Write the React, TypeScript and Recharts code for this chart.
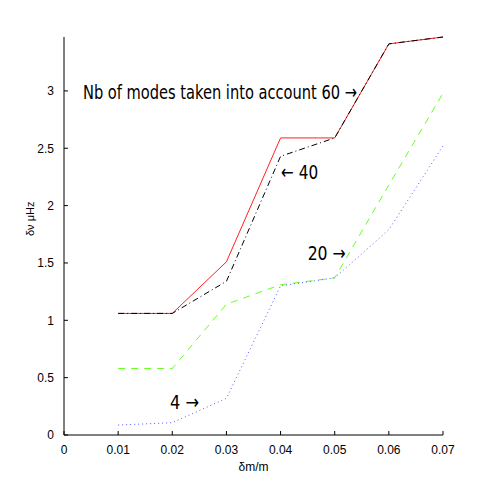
import { LineChart, Line, XAxis, YAxis, ReferenceDot } from "recharts";

const dm = [0.01, 0.02, 0.03, 0.04, 0.05, 0.06, 0.07];
const modes60 = [1.06, 1.06, 1.51, 2.59, 2.59, 3.41, 3.47];
const modes40 = [1.06, 1.06, 1.34, 2.43, 2.59, 3.41, 3.47];
const modes20 = [0.58, 0.58, 1.14, 1.31, 1.37, 2.18, 2.98];
const modes4 = [0.087, 0.107, 0.32, 1.3, 1.37, 1.79, 2.52];

const xTicks = [0, 0.01, 0.02, 0.03, 0.04, 0.05, 0.06, 0.07];
const yTicks = [0, 0.5, 1, 1.5, 2, 2.5, 3];

// annotation anchors (data coords) + total width in px
const notes = [
  { x: 0.0035, y: 2.93, text: "Nb of modes taken into account 60 \u2192", w: 274 },
  { x: 0.0401, y: 2.23, text: "\u2190 40", w: 37 },
  { x: 0.045, y: 1.53, text: "20 \u2192", w: 38 },
  { x: 0.0196, y: 0.224, text: "4 \u2192", w: 29 },
];

const data = dm.map((x, i) => ({
  x,
  m60: modes60[i],
  m40: modes40[i],
  m20: modes20[i],
  m4: modes4[i],
}));

const font = "'Liberation Sans', Arial, sans-serif";
const noteFont = "'DejaVu Sans Condensed', 'DejaVu Sans', sans-serif";

export default function App() {
  return (
    <div style={{ position: "absolute", left: 0, top: 0, background: "#fff" }}>
      <LineChart
        width={491}
        height={491}
        data={data}
        margin={{ top: 37, right: 48, left: 0, bottom: 0 }}
      >
        <XAxis
          dataKey="x"
          type="number"
          domain={[0, 0.07]}
          ticks={xTicks}
          height={56}
          stroke="#000"
          tickSize={-4}
          tickMargin={14}
          tick={{ fill: "#000", fontSize: 12, fontFamily: font }}
          label={{
            value: "δm/m",
            position: "insideBottom",
            offset: 20,
            fill: "#000",
            fontSize: 12,
            fontFamily: font,
          }}
        />
        <YAxis
          type="number"
          domain={[0, 3.47]}
          ticks={yTicks}
          width={64}
          stroke="#000"
          tickSize={-4}
          tickMargin={14}
          tick={{ fill: "#000", fontSize: 12, fontFamily: font }}
          label={{
            value: "δν μHz",
            angle: -90,
            position: "insideLeft",
            offset: 30,
            fill: "#000",
            fontSize: 11,
            fontFamily: font,
          }}
        />
        <Line dataKey="m60" stroke="#ff2020" strokeWidth={1} dot={false} isAnimationActive={false} />
        <Line dataKey="m40" stroke="#000" strokeWidth={1} strokeDasharray="6 3 1 3" dot={false} isAnimationActive={false} />
        <Line dataKey="m20" stroke="#66ff22" strokeWidth={1} strokeDasharray="7 6" dot={false} isAnimationActive={false} />
        <Line dataKey="m4" stroke="#5a5aff" strokeWidth={1} strokeDasharray="1 3" dot={false} isAnimationActive={false} />
        {notes.map((n) => (
          <ReferenceDot
            key={n.text}
            x={n.x}
            y={n.y}
            r={0}
            ifOverflow="visible"
            shape={(p: any) => (
              <text
                x={p.cx}
                y={p.cy}
                fontSize={20}
                fontFamily={noteFont}
                fill="#000"
                textLength={n.w}
                lengthAdjust="spacingAndGlyphs"
              >
                {n.text}
              </text>
            )}
          />
        ))}
      </LineChart>
    </div>
  );
}
